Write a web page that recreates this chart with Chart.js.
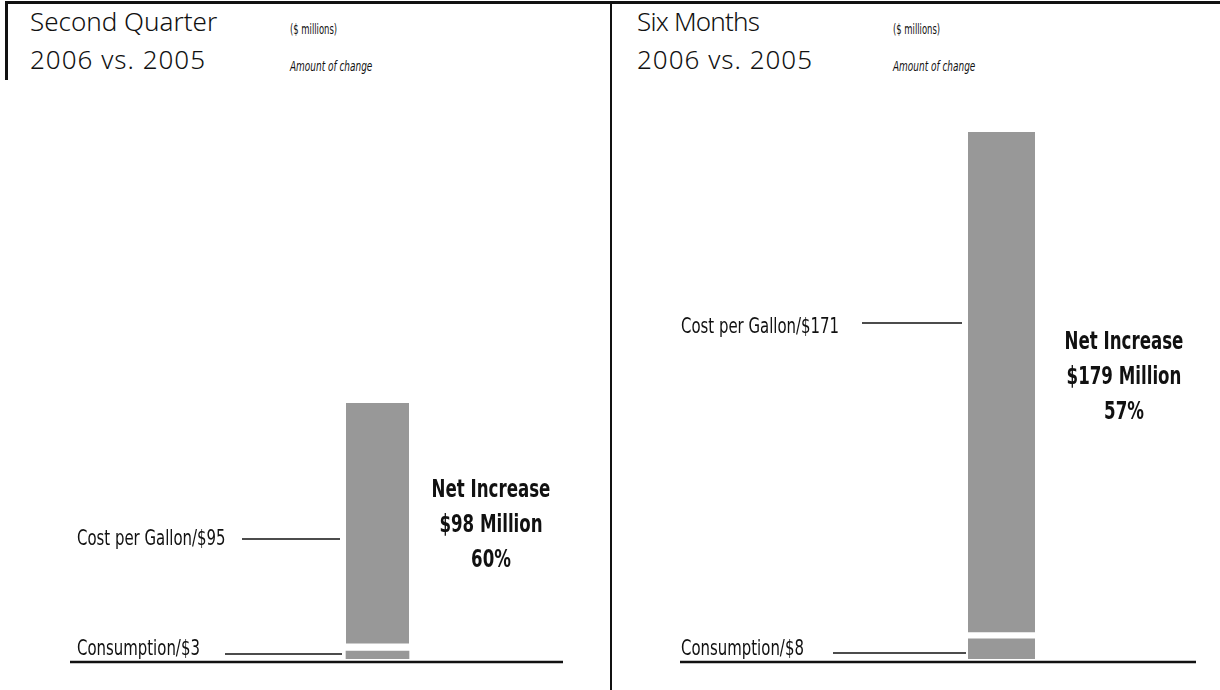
<!DOCTYPE html>
<html>
<head>
<meta charset="utf-8">
<script src="https://cdn.jsdelivr.net/npm/chart.js@4.4.1/dist/chart.umd.min.js"></script>
<style>
    html, body { margin: 0; padding: 0; background: #fff; }
    body { width: 1220px; height: 690px; position: relative; overflow: hidden; }
    .rule { position: absolute; background: #111; }
    .title { position: absolute; font-family: "Noto Sans", "DejaVu Sans", sans-serif; font-weight: 300; font-size: 26px; color: #111; line-height: 1; white-space: nowrap; }
    .note { position: absolute; font-family: "Liberation Sans Narrow", "DejaVu Sans Condensed", "Roboto Condensed", sans-serif; font-size: 14px; color: #111; white-space: nowrap; transform: scaleX(0.67); transform-origin: left top; }
    .note.it { font-style: italic; transform: scaleX(0.71); }
    .panel { position: absolute; top: 0; height: 690px; }
</style>
</head>
<body>
<div class="rule" style="left:5px; top:1px; width:1215px; height:3px;"></div>
<div class="rule" style="left:5px; top:1px; width:2.5px; height:79px;"></div>
<div class="rule" style="left:610px; top:1px; width:1.6px; height:689px;"></div>

<div class="title" style="left:30px; top:8px;">Second Quarter</div>
<div class="title" style="left:30px; top:46px; letter-spacing:1px;">2006 vs. 2005</div>
<div class="note" style="left:290px; top:21px;">($ millions)</div>
<div class="note it" style="left:290px; top:58px;">Amount of change</div>

<div class="title" style="left:637px; top:8px; letter-spacing:-0.8px;">Six Months</div>
<div class="title" style="left:637px; top:46px; letter-spacing:1px;">2006 vs. 2005</div>
<div class="note" style="left:893px; top:21px;">($ millions)</div>
<div class="note it" style="left:893px; top:58px;">Amount of change</div>

<div class="panel" style="left:0; width:611px;"><canvas id="chartQ2"></canvas></div>
<div class="panel" style="left:612px; width:608px;"><canvas id="chartH1"></canvas></div>

<script>
const periods = ["Second Quarter", "Six Months"];
const consumption = [3, 8];
const costPerGallon = [95, 171];
const netIncrease = [98, 179];
const pctChange = [60, 57];

const BAR_GREY = "#989898";
const LABEL_FONT = "21px 'Liberation Sans Narrow', 'DejaVu Sans Condensed', sans-serif";
const BOLD_FONT = "bold 25px 'Liberation Sans Narrow', 'DejaVu Sans Condensed', sans-serif";

// draw text squeezed horizontally, the reference uses a condensed face
function narrowText(ctx, text, x, y, squeeze) {
    ctx.save();
    ctx.translate(x, y);
    ctx.scale(squeeze, 1);
    ctx.fillText(text, 0, 0);
    ctx.restore();
}

// leader labels, baseline and the "Net Increase" block
const annotate = {
    id: "annotate",
    afterDraw(chart, args, opts) {
        const ctx = chart.ctx;
        const i = opts.index;
        ctx.save();
        ctx.strokeStyle = "#111";
        ctx.fillStyle = "#111";

        ctx.lineWidth = 2.5;
        ctx.beginPath();
        ctx.moveTo(opts.base[0], chart.chartArea.bottom + 3);
        ctx.lineTo(opts.base[1], chart.chartArea.bottom + 3);
        ctx.stroke();

        const labels = [
            { text: `Cost per Gallon/$${costPerGallon[i]}`, ...opts.cost },
            { text: `Consumption/$${consumption[i]}`, ...opts.cons }
        ];
        ctx.font = LABEL_FONT;
        ctx.textAlign = "left";
        ctx.textBaseline = "alphabetic";
        ctx.lineWidth = 1.6;
        labels.forEach(l => {
            narrowText(ctx, l.text, opts.textX, l.textY, 0.79);
            ctx.beginPath();
            ctx.moveTo(l.x0, l.lineY);
            ctx.lineTo(l.x1, l.lineY);
            ctx.stroke();
        });

        ctx.font = BOLD_FONT;
        ctx.textAlign = "center";
        ctx.textBaseline = "middle";
        const lines = ["Net Increase", `$${netIncrease[i]} Million`, `${pctChange[i]}%`];
        lines.forEach((t, k) => narrowText(ctx, t, opts.netX, opts.netY + k * 35, 0.74));
        ctx.restore();
    }
};

function makeChart(id, i, layout) {
    const total = consumption[i] + costPerGallon[i];
    return new Chart(document.getElementById(id), {
        type: "bar",
        data: {
            labels: [periods[i]],
            datasets: [{
                label: "Consumption",
                data: [consumption[i]],
                backgroundColor: BAR_GREY,
                borderColor: "#fff",
                borderSkipped: false,
                borderWidth: { top: layout.gapLow, bottom: 0, left: 0, right: 0 },
                barThickness: layout.barW
            }, {
                label: "Cost per Gallon",
                data: [costPerGallon[i]],
                backgroundColor: BAR_GREY,
                borderColor: "#fff",
                borderSkipped: false,
                borderWidth: { top: 0, bottom: layout.gapHigh, left: 0, right: 0 },
                barThickness: layout.barW
            }]
        },
        options: {
            responsive: true,
            maintainAspectRatio: false,
            animation: false,
            layout: { padding: layout.padding },
            plugins: {
                legend: { display: false },
                tooltip: { enabled: false },
                annotate: layout.notes
            },
            scales: {
                x: { stacked: true, display: false },
                y: { stacked: true, display: false, min: 0, max: total }
            }
        },
        plugins: [annotate]
    });
}

makeChart("chartQ2", 0, {
    barW: 63,
    gapLow: 0,
    gapHigh: 8,
    padding: { left: 314, right: 170, top: 403, bottom: 31 },
    notes: {
        index: 0,
        base: [70, 563],
        textX: 77,
        cost: { textY: 545, lineY: 539, x0: 242, x1: 340 },
        cons: { textY: 655, lineY: 654, x0: 225, x1: 342 },
        netX: 491,
        netY: 490
    }
});

makeChart("chartH1", 1, {
    barW: 67,
    gapLow: 3.5,
    gapHigh: 3.5,
    padding: { left: 326, right: 155, top: 132, bottom: 31 },
    notes: {
        index: 1,
        base: [68, 584],
        textX: 69,
        cost: { textY: 333, lineY: 323, x0: 250, x1: 350 },
        cons: { textY: 655, lineY: 653, x0: 221, x1: 354 },
        netX: 512,
        netY: 342
    }
});
</script>
</body>
</html>
